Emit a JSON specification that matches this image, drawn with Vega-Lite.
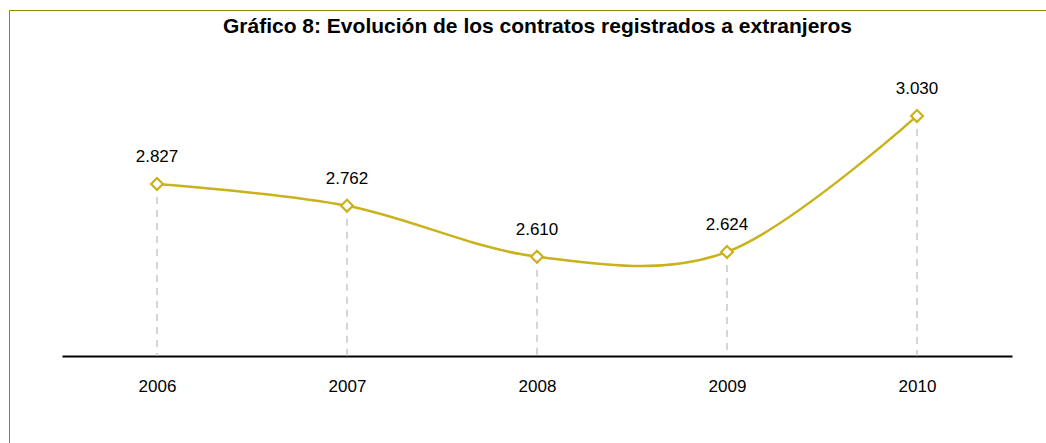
{
  "$schema": "https://vega.github.io/schema/vega-lite/v6.json",
  "width": 1037,
  "height": 433,
  "autosize": "none",
  "padding": {"left": 9, "top": 10, "right": 0, "bottom": 0},
  "background": "white",
  "title": {
    "text": "Gráfico 8: Evolución de los contratos registrados a extranjeros",
    "font": "Liberation Sans",
    "fontSize": 21,
    "fontWeight": "bold",
    "color": "black",
    "anchor": "middle",
    "baseline": "alphabetic",
    "offset": -44,
    "dx": 10
  },
  "data": {
    "values": [
      {"year": 2006, "value": 2827},
      {"year": 2007, "value": 2762},
      {"year": 2008, "value": 2610},
      {"year": 2009, "value": 2624},
      {"year": 2010, "value": 3030}
    ]
  },
  "config": {
    "view": {"stroke": null},
    "locale": {"number": {"decimal": ",", "thousands": ".", "grouping": [3], "currency": ["", " €"]}},
    "axis": {"grid": false}
  },
  "layer": [
    {
      "encoding": {
        "x": {
          "field": "year",
          "type": "quantitative",
          "scale": {"domain": [2005.5, 2010.5], "range": [53, 1003], "nice": false, "zero": false},
          "axis": {
            "orient": "bottom",
            "offset": -87,
            "values": [2006, 2007, 2008, 2009, 2010],
            "format": "d",
            "title": null,
            "domainColor": "black",
            "domainWidth": 2,
            "ticks": false,
            "tickSize": 0,
            "labelPadding": 35,
            "labelBaseline": "alphabetic",
            "labelFont": "Liberation Sans",
            "labelFontSize": 17,
            "labelColor": "black",
            "labelFlush": false
          }
        },
        "y": {
          "field": "value",
          "type": "quantitative",
          "scale": {"domain": [2054, 3346], "nice": false, "zero": false},
          "axis": {
            "orient": "left",
            "title": null,
            "labels": false,
            "ticks": false,
            "domainColor": "#968200",
            "domainWidth": 1
          }
        }
      },
      "layer": [
        {
          "mark": {"type": "rule", "color": "#c8c8c8", "strokeWidth": 1.5, "strokeDash": [7, 6]},
          "encoding": {"y2": {"datum": 2314}}
        },
        {
          "mark": {"type": "line", "color": "#c9b21c", "strokeWidth": 2.5, "interpolate": "cardinal", "tension": 0}
        },
        {
          "mark": {"type": "point", "shape": "diamond", "filled": true, "fill": "white", "stroke": "#c9b21c", "strokeWidth": 2.2, "size": 140, "opacity": 1}
        },
        {
          "mark": {"type": "text", "baseline": "alphabetic", "align": "center", "dy": -22, "font": "Liberation Sans", "fontSize": 17, "color": "black"},
          "encoding": {"text": {"field": "value", "type": "quantitative", "format": ",d"}}
        }
      ]
    },
    {
      "mark": {"type": "point", "opacity": 0},
      "encoding": {
        "x": {
          "field": "year",
          "type": "quantitative",
          "scale": {"domain": [2005.5, 2010.5], "nice": false, "zero": false},
          "axis": {
            "orient": "top",
            "title": null,
            "labels": false,
            "ticks": false,
            "domainColor": "#968200",
            "domainWidth": 1
          }
        }
      }
    }
  ],
  "resolve": {"scale": {"x": "independent"}, "axis": {"x": "independent"}}
}
